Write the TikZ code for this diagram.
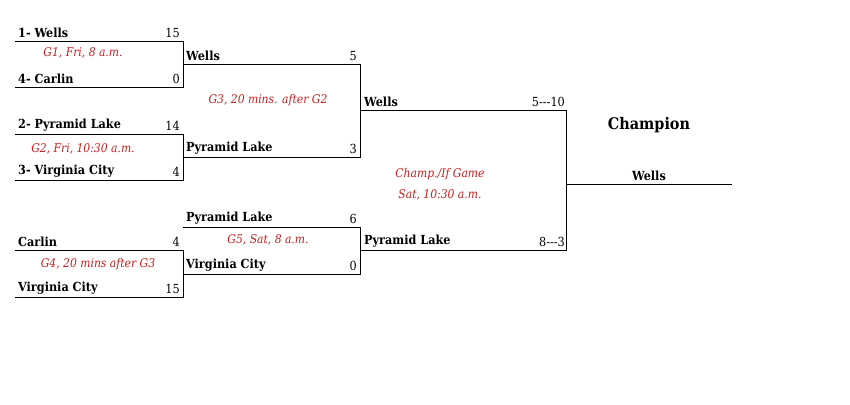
\documentclass[tikz,border=0pt]{standalone}
\usepackage{fontspec}
\setmainfont{DejaVu Serif Condensed}
\definecolor{gred}{RGB}{200,30,30}
\begin{document}
\begin{tikzpicture}[x=1pt,y=-1pt,
  ln/.style={line width=0.9pt},
  tm/.style={anchor=south west,inner sep=1pt,font=\fontsize{12.5}{14}\selectfont\bfseries},
  sc/.style={anchor=south east,inner sep=1pt,font=\fontsize{12.5}{14}\selectfont},
  gm/.style={text=gred,inner sep=1pt,font=\fontsize{12}{14}\selectfont\itshape}]
\useasboundingbox (0,0) rectangle (850,404);
% round 1
\coordinate (a1) at (15,41); \coordinate (a2) at (183,41);
\coordinate (b1) at (15,87); \coordinate (b2) at (183,87);
\draw[ln] (a1) -- (a2) -- (b2) -- (b1);
\node[tm] (t1) at (17,39) {1- Wells}; \node[sc] (s1) at (181,39) {15};
\node[tm] (t2) at (17,85) {4- Carlin}; \node[sc] (s2) at (181,85) {0};
\node[gm] (g1) at (83,53) {G1, Fri, 8 a.m.};
\coordinate (c1) at (15,134); \coordinate (c2) at (183,134);
\coordinate (d1) at (15,180); \coordinate (d2) at (183,180);
\draw[ln] (c1) -- (c2) -- (d2) -- (d1);
\node[tm] (t3) at (17,132) {2- Pyramid Lake}; \node[sc] (s3) at (181,132) {14};
\node[tm] (t4) at (17,178) {3- Virginia City}; \node[sc] (s4) at (181,178) {4};
\node[gm] (g2) at (83,149) {G2, Fri, 10:30 a.m.};
\coordinate (e1) at (15,250); \coordinate (e2) at (183,250);
\coordinate (f1) at (15,297); \coordinate (f2) at (183,297);
\draw[ln] (e1) -- (e2) -- (f2) -- (f1);
\node[tm] (t5) at (17,248) {Carlin}; \node[sc] (s5) at (181,248) {4};
\node[tm] (t6) at (17,295) {Virginia City}; \node[sc] (s6) at (181,295) {15};
\node[gm] (g4) at (98,264) {G4, 20 mins after G3};
% round 2
\coordinate (h1) at (183,64); \coordinate (h2) at (360,64);
\coordinate (i1) at (183,157); \coordinate (i2) at (360,157);
\draw[ln] (h1) -- (h2) -- (i2) -- (i1);
\node[tm] (t7) at (185,62) {Wells}; \node[sc] (s7) at (358,62) {5};
\node[tm] (t8) at (185,155) {Pyramid Lake}; \node[sc] (s8) at (358,155) {3};
\node[gm] (g3) at (268,100) {G3, 20 mins. after G2};
\coordinate (j1) at (183,227); \coordinate (j2) at (360,227);
\coordinate (k1) at (183,274); \coordinate (k2) at (360,274);
\draw[ln] (j1) -- (j2) -- (k2) -- (k1);
\node[tm] (t9) at (185,225) {Pyramid Lake}; \node[sc] (s9) at (358,225) {6};
\node[tm] (t10) at (185,272) {Virginia City}; \node[sc] (s10) at (358,272) {0};
\node[gm] (g5) at (268,240) {G5, Sat, 8 a.m.};
% round 3
\coordinate (l1) at (360,110); \coordinate (l2) at (566,110);
\coordinate (m1) at (360,250); \coordinate (m2) at (566,250);
\draw[ln] (l1) -- (l2) -- (m2) -- (m1);
\node[tm] (t11) at (363,108) {Wells}; \node[sc] (s11) at (566,108) {5{-}{-}{-}10};
\node[tm] (t12) at (363,248) {Pyramid Lake}; \node[sc] (s12) at (566,248) {8{-}{-}{-}3};
\node[gm] (g6) at (440,174) {Champ./If Game};
\node[gm] (g7) at (440,195) {Sat, 10:30 a.m.};
% champion
\coordinate (n1) at (566,184); \coordinate (n2) at (732,184);
\draw[ln] (n1) -- (n2);
\node[font=\fontsize{16}{18}\selectfont\bfseries] (ch) at (649,125) {Champion};
\node[font=\fontsize{12.5}{14}\selectfont\bfseries,anchor=south,inner sep=1pt] (w) at (649,182) {Wells};
\end{tikzpicture}
\end{document}
